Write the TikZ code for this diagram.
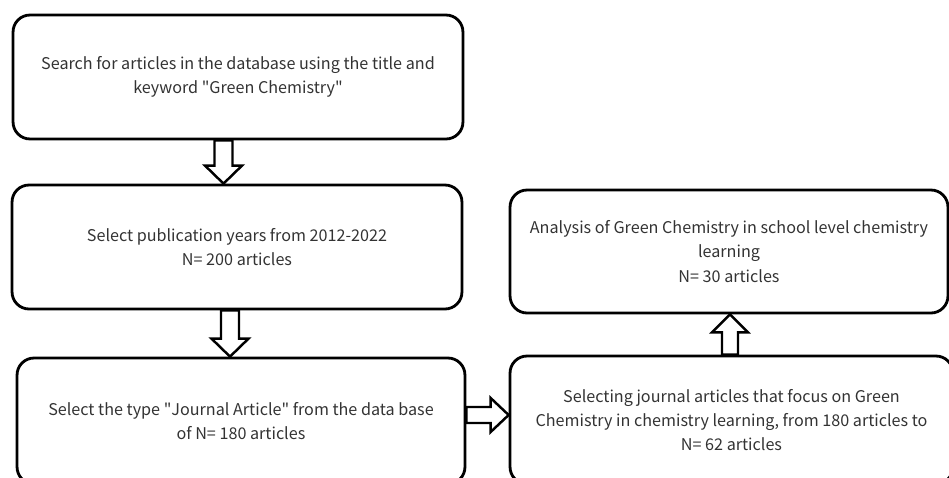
\documentclass[tikz,border=0pt]{standalone}
\usepackage{fontspec}
\setmainfont{Noto Sans CJK SC}
\usetikzlibrary{calc}

\begin{document}
\begin{tikzpicture}[
    x=0.02cm, y=-0.02cm,
    line width=1.6pt,
    % Stile per i riquadri
    stepbox/.style={draw, rounded corners=0.34cm, align=center, text=black!80,
        font=\fontsize{9.2}{13.9}\selectfont, inner sep=0pt},
    % Stile per le frecce larghe
    fatline/.style={draw, fill=white, line width=1.4pt, line join=miter},
    fatdown/.style={fatline, to path={let \p1=(\tikztostart), \p2=(\tikztotarget) in
        (\x1-0.18cm,\y1) -- (\x1+0.18cm,\y1) -- (\x1+0.18cm,\y2+0.36cm) -- (\x1+0.37cm,\y2+0.36cm)
        -- (\x1,\y2) -- (\x1-0.37cm,\y2+0.36cm) -- (\x1-0.18cm,\y2+0.36cm) -- cycle}},
    fatup/.style={fatline, to path={let \p1=(\tikztostart), \p2=(\tikztotarget) in
        (\x1-0.16cm,\y1) -- (\x1+0.16cm,\y1) -- (\x1+0.16cm,\y2-0.36cm) -- (\x1+0.36cm,\y2-0.36cm)
        -- (\x1,\y2) -- (\x1-0.36cm,\y2-0.36cm) -- (\x1-0.16cm,\y2-0.36cm) -- cycle}},
    fatright/.style={fatline, to path={let \p1=(\tikztostart), \p2=(\tikztotarget) in
        (\x1,\y1+0.16cm) -- (\x1,\y1-0.16cm) -- (\x2-0.36cm,\y1-0.16cm) -- (\x2-0.36cm,\y1-0.34cm)
        -- (\x2,\y1) -- (\x2-0.36cm,\y1+0.34cm) -- (\x2-0.36cm,\y1+0.16cm) -- cycle}}
]
    \clip (0,0) rectangle (949,477);

    % Riquadri
    \node[stepbox, minimum width=9cm, minimum height=2.48cm] (search) at (238,77)
        {Search for articles in the database using the title and\\keyword \textquotedbl Green Chemistry\textquotedbl};
    \node[stepbox, minimum width=9cm, minimum height=2.48cm] (years) at (237,247)
        {Select publication years from 2012-2022\\N= 200 articles};
    \node[stepbox, minimum width=8.96cm, minimum height=2.52cm] (journal) at (241,421)
        {Select the type \textquotedbl Journal Article\textquotedbl{} from the data base\\of N= 180 articles};
    \node[stepbox, minimum width=8.86cm, minimum height=2.56cm] (focus) at (731.5,420)
        {Selecting journal articles that focus on Green\\Chemistry in chemistry learning, from 180 articles to\\N= 62 articles};
    \node[stepbox, minimum width=8.76cm, minimum height=2.46cm] (analysis) at (729,251.5)
        {Analysis of Green Chemistry in school level chemistry\\learning\\N= 30 articles};

    % Frecce
    \draw[fatdown] ([xshift=-0.29cm]search.south) to (years.north);
    \draw[fatdown] ([xshift=-0.14cm]years.south) to (journal.north);
    \draw[fatright] ([yshift=0.12cm]journal.east) to (focus.west);
    \draw[fatup] ([xshift=-0.03cm]focus.north) to (analysis.south);

\end{tikzpicture}
\end{document}
